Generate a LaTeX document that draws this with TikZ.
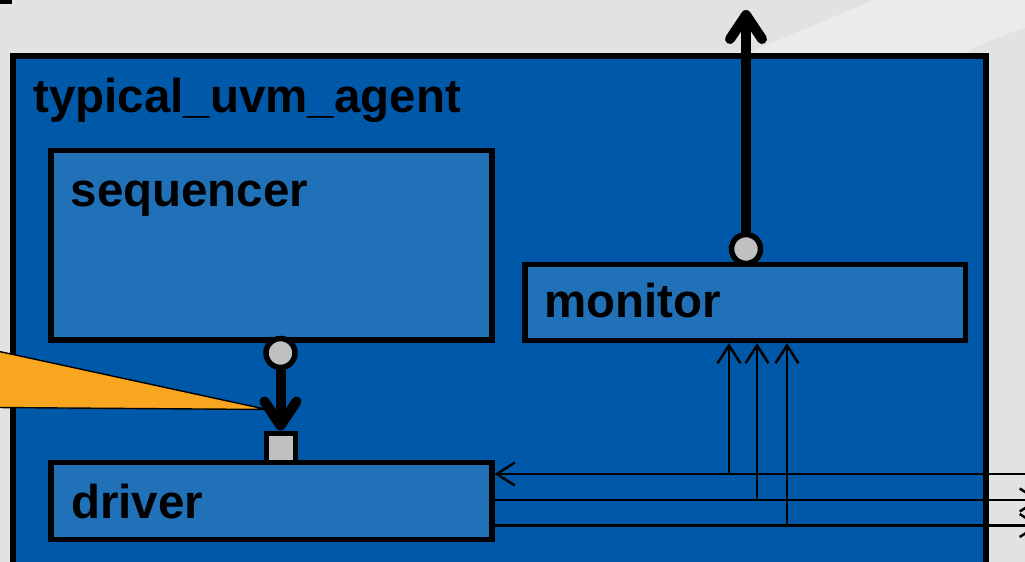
\documentclass[tikz,border=0pt]{standalone}
\usepackage{fontspec}
\setmainfont{Liberation Sans}
\usepackage{color}
\usepackage{tikz}
\usetikzlibrary{arrows.meta,positioning}

\definecolor{bggray}{HTML}{E2E2E2}
\definecolor{bglight}{HTML}{EBEBEB}
\definecolor{agentblue}{HTML}{0059A8}
\definecolor{compblue}{HTML}{2171B8}
\definecolor{portgray}{HTML}{C0C0C0}
\definecolor{noteorange}{HTML}{F8A51F}

\begin{document}
\begin{tikzpicture}[
                x=1pt, y=-1pt,                % 像素坐标, y 向下
                every node/.style={inner sep=0pt},
                agentbox/.style={draw, line width=6pt, fill=agentblue, outer sep=3pt, anchor=north west},
                box/.style={draw, line width=5.5pt, fill=compblue, outer sep=2.75pt, anchor=north west},
                boxtext/.style={font=\fontsize{47.5}{57}\selectfont\bfseries, anchor=base west},
                port/.style={circle, draw, line width=5.5pt, fill=portgray, minimum size=29pt, outer sep=2.75pt},
                export/.style={rectangle, draw, line width=5pt, fill=portgray, minimum size=29pt, outer sep=2.5pt},
                tlm/.style={-{Straight Barb[length=24pt, width=32pt, round]}, line width=10pt},
                sig/.style={-{Straight Barb[length=18pt, width=23pt]}, line width=2.5pt},
                callout/.style={draw, line width=1.4pt, line join=bevel, fill=noteorange}
            ]
                \useasboundingbox (0,0) rectangle (1025,562);
                % 背景
                \fill[bggray] (0,0) rectangle (1025,562);
                \fill[bglight] (873,0) -- (1025,0) -- (1025,28)
                    .. controls (1000,36) and (980,44) .. (960,56) -- (740,56)
                    .. controls (790,35) and (840,15) .. (873,0);
                \fill (0,0) rectangle (12,4);

                % 组件
                \node[agentbox, minimum width=973pt, minimum height=560pt] (agent) at (10,53) {};
                \node[boxtext] (agenttext) at (33,112) {typical\_uvm\_agent};
                \node[box, minimum width=441pt, minimum height=189.5pt] (sequencer) at (48,147.5) {};
                \node[box, minimum width=440.5pt, minimum height=76pt] (monitor) at (522,261.5) {};
                \node[box, minimum width=441pt, minimum height=77pt] (driver) at (48,459.5) {};
                \node[boxtext] (seqtext) at (70.5,206.5) {sequencer};
                \node[boxtext] (montext) at (544,317) {monitor};
                \node[boxtext] (drvtext) at (71,518) {driver};

                % 信号线
                \coordinate (drvin) at (1030,474);
                \coordinate (tap1) at (729,474);
                \coordinate (drvout1) at (1040,500);
                \coordinate (tap2) at (757,500);
                \coordinate (drvout2) at (1040,525.5);
                \coordinate (tap3) at (787,525.5);
                \draw[sig] (drvin) -- (driver.east |- drvin);
                \draw[sig] (driver.east |- drvout1) -- (drvout1);
                \draw[sig] (driver.east |- drvout2) -- (drvout2);
                \draw[sig] (tap1) -- (tap1 |- monitor.south);
                \draw[sig] (tap2) -- (tap2 |- monitor.south);
                \draw[sig] (tap3) -- (tap3 |- monitor.south);

                % 端口
                \node[port] (seqport) at (280.5,353) {};
                \node[export] (drvport) at (280.5,447.5) {};
                \node[port] (monport) at (746,249) {};
                \coordinate (monout) at (746,10);
                \draw[tlm] (seqport) -- (drvport);
                \draw[tlm] (monport) -- (monout);

                % 注释框
                \draw[callout] (-3,351) -- (267,409.5) -- (-3,407.5) -- cycle;
            \end{tikzpicture}
\end{document}
